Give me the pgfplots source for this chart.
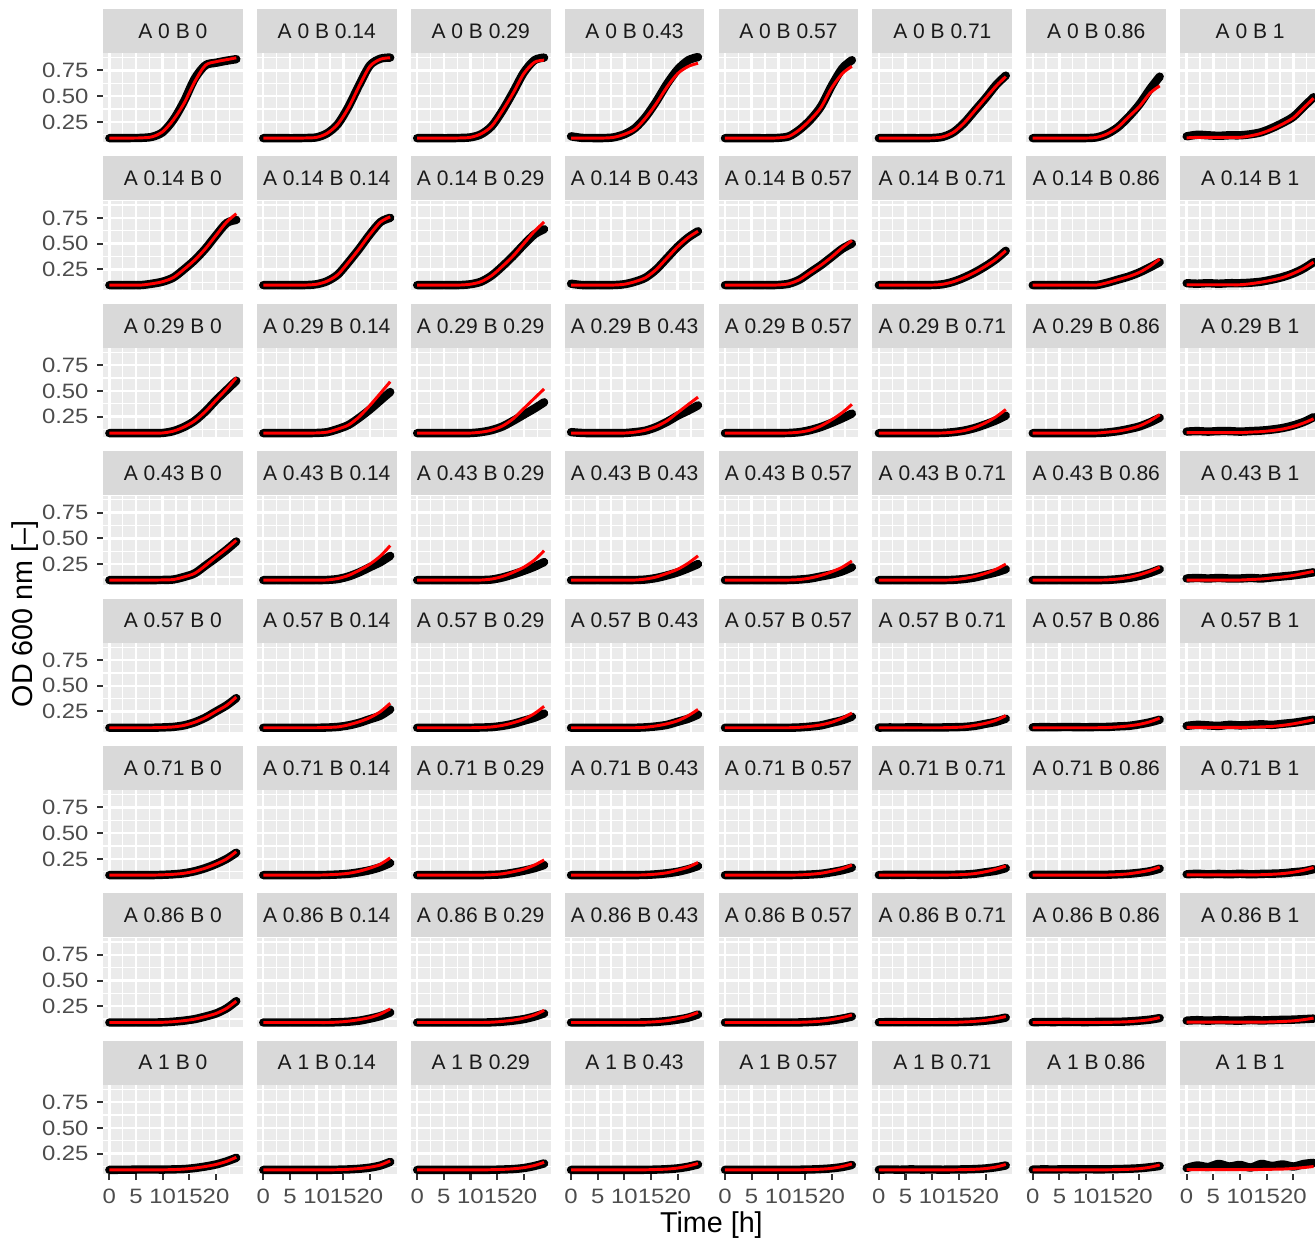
\documentclass[border=0pt]{standalone}
\usepackage{pgfplots}
\pgfplotsset{compat=1.18}
\usepackage{pgfplotstable}
\usepackage{fontspec}
\setmainfont{Liberation Sans}
\newfontfamily\tickfont[FakeStretch=1.15]{Liberation Sans}
\definecolor{panelgray}{HTML}{EBEBEB}
\definecolor{stripgray}{HTML}{D9D9D9}
\definecolor{tickgray}{HTML}{4D4D4D}
\definecolor{tickdark}{HTML}{333333}
\definecolor{striptext}{HTML}{1A1A1A}
\definecolor{fitred}{HTML}{FF0000}

% columns: t, black data b0..b7 (B = 0 ... 1), red fit r0..r7
\pgfplotstableread{
t b0 b1 b2 b3 b4 b5 b6 b7 r0 r1 r2 r3 r4 r5 r6 r7
0 0.092 0.092 0.092 0.110 0.092 0.092 0.092 0.110 0.092 0.092 0.092 0.093 0.092 0.092 0.092 0.095
2 0.092 0.092 0.092 0.095 0.092 0.092 0.092 0.125 0.092 0.092 0.092 0.093 0.092 0.092 0.092 0.100
4 0.093 0.092 0.092 0.093 0.092 0.092 0.092 0.120 0.093 0.092 0.092 0.093 0.092 0.092 0.092 0.100
6 0.095 0.092 0.092 0.093 0.092 0.092 0.092 0.115 0.095 0.092 0.092 0.093 0.092 0.092 0.092 0.100
8 0.105 0.094 0.094 0.100 0.092 0.092 0.092 0.120 0.105 0.094 0.094 0.100 0.092 0.092 0.092 0.100
10 0.150 0.100 0.100 0.130 0.095 0.094 0.093 0.120 0.155 0.100 0.100 0.130 0.095 0.094 0.093 0.100
12 0.270 0.140 0.130 0.190 0.110 0.105 0.100 0.130 0.270 0.140 0.135 0.180 0.110 0.105 0.100 0.115
14 0.450 0.230 0.210 0.300 0.175 0.150 0.135 0.150 0.430 0.230 0.210 0.290 0.175 0.150 0.135 0.140
16 0.670 0.400 0.360 0.450 0.270 0.240 0.200 0.190 0.640 0.390 0.360 0.430 0.270 0.240 0.200 0.180
18 0.800 0.610 0.540 0.620 0.400 0.360 0.300 0.240 0.800 0.600 0.530 0.590 0.390 0.360 0.300 0.230
20 0.825 0.800 0.730 0.760 0.600 0.480 0.420 0.300 0.835 0.790 0.720 0.720 0.580 0.480 0.400 0.290
22 0.845 0.865 0.850 0.850 0.770 0.610 0.570 0.400 0.855 0.860 0.830 0.790 0.720 0.600 0.530 0.390
23.8 0.860 0.875 0.875 0.880 0.850 0.700 0.690 0.490 0.873 0.873 0.850 0.820 0.790 0.690 0.600 0.480
}\tabA
\pgfplotstableread{
t b0 b1 b2 b3 b4 b5 b6 b7 r0 r1 r2 r3 r4 r5 r6 r7
0 0.096 0.096 0.096 0.110 0.096 0.096 0.096 0.115 0.096 0.096 0.096 0.096 0.096 0.096 0.096 0.100
2 0.096 0.096 0.096 0.097 0.096 0.096 0.096 0.110 0.096 0.096 0.096 0.096 0.096 0.096 0.096 0.100
4 0.096 0.096 0.096 0.096 0.096 0.096 0.096 0.115 0.096 0.096 0.096 0.096 0.096 0.096 0.096 0.100
6 0.097 0.096 0.096 0.096 0.096 0.096 0.096 0.110 0.097 0.096 0.096 0.096 0.096 0.096 0.096 0.100
8 0.110 0.097 0.097 0.097 0.096 0.096 0.096 0.115 0.110 0.097 0.097 0.097 0.096 0.096 0.096 0.100
10 0.130 0.105 0.105 0.105 0.098 0.097 0.096 0.115 0.130 0.105 0.105 0.105 0.098 0.097 0.096 0.100
12 0.170 0.135 0.130 0.130 0.110 0.105 0.097 0.120 0.170 0.135 0.130 0.130 0.110 0.105 0.097 0.110
14 0.250 0.200 0.190 0.170 0.150 0.130 0.120 0.130 0.250 0.200 0.190 0.170 0.150 0.130 0.120 0.125
16 0.340 0.320 0.280 0.250 0.220 0.170 0.150 0.150 0.340 0.320 0.280 0.250 0.220 0.170 0.150 0.145
18 0.450 0.450 0.380 0.360 0.290 0.220 0.180 0.175 0.450 0.450 0.380 0.360 0.290 0.220 0.180 0.170
20 0.580 0.590 0.490 0.470 0.370 0.280 0.220 0.210 0.580 0.590 0.500 0.470 0.370 0.280 0.220 0.210
22 0.700 0.710 0.590 0.560 0.450 0.350 0.270 0.260 0.710 0.710 0.620 0.560 0.460 0.350 0.280 0.260
23.8 0.730 0.750 0.640 0.620 0.500 0.430 0.320 0.320 0.790 0.760 0.710 0.620 0.530 0.430 0.350 0.320
}\tabB
\pgfplotstableread{
t b0 b1 b2 b3 b4 b5 b6 b7 r0 r1 r2 r3 r4 r5 r6 r7
0 0.090 0.090 0.090 0.100 0.090 0.090 0.090 0.105 0.090 0.090 0.090 0.090 0.090 0.090 0.090 0.095
2 0.090 0.090 0.090 0.092 0.090 0.090 0.090 0.110 0.090 0.090 0.090 0.090 0.090 0.090 0.090 0.095
4 0.090 0.090 0.090 0.090 0.090 0.090 0.090 0.105 0.090 0.090 0.090 0.090 0.090 0.090 0.090 0.095
6 0.090 0.090 0.090 0.090 0.090 0.090 0.090 0.110 0.090 0.090 0.090 0.090 0.090 0.090 0.090 0.095
8 0.090 0.090 0.090 0.090 0.090 0.090 0.090 0.110 0.090 0.090 0.090 0.090 0.090 0.090 0.090 0.095
10 0.092 0.092 0.091 0.091 0.090 0.090 0.090 0.105 0.092 0.092 0.091 0.091 0.090 0.090 0.090 0.095
12 0.110 0.100 0.100 0.100 0.092 0.092 0.091 0.110 0.110 0.100 0.100 0.100 0.092 0.092 0.091 0.100
14 0.150 0.130 0.120 0.115 0.100 0.100 0.097 0.115 0.150 0.130 0.120 0.120 0.100 0.100 0.100 0.105
16 0.210 0.170 0.155 0.150 0.120 0.115 0.110 0.125 0.210 0.170 0.160 0.155 0.120 0.115 0.110 0.115
18 0.300 0.240 0.210 0.200 0.150 0.140 0.130 0.140 0.300 0.250 0.230 0.210 0.160 0.145 0.130 0.130
20 0.410 0.320 0.270 0.260 0.190 0.175 0.155 0.165 0.410 0.360 0.330 0.290 0.220 0.190 0.160 0.155
22 0.510 0.410 0.330 0.310 0.235 0.215 0.195 0.200 0.520 0.480 0.430 0.370 0.290 0.250 0.210 0.190
23.8 0.600 0.490 0.390 0.360 0.280 0.260 0.240 0.245 0.630 0.590 0.520 0.440 0.370 0.320 0.270 0.230
}\tabC
\pgfplotstableread{
t b0 b1 b2 b3 b4 b5 b6 b7 r0 r1 r2 r3 r4 r5 r6 r7
0 0.094 0.094 0.094 0.094 0.094 0.094 0.094 0.110 0.094 0.094 0.094 0.094 0.094 0.094 0.094 0.095
2 0.094 0.094 0.094 0.094 0.094 0.094 0.094 0.115 0.094 0.094 0.094 0.094 0.094 0.094 0.094 0.095
4 0.094 0.094 0.094 0.094 0.094 0.094 0.094 0.110 0.094 0.094 0.094 0.094 0.094 0.094 0.094 0.095
6 0.094 0.094 0.094 0.094 0.094 0.094 0.094 0.115 0.094 0.094 0.094 0.094 0.094 0.094 0.094 0.095
8 0.094 0.094 0.094 0.094 0.094 0.094 0.094 0.110 0.094 0.094 0.094 0.094 0.094 0.094 0.094 0.095
10 0.096 0.094 0.094 0.094 0.094 0.094 0.094 0.110 0.096 0.094 0.094 0.094 0.094 0.094 0.094 0.095
12 0.100 0.096 0.095 0.095 0.095 0.094 0.094 0.115 0.100 0.096 0.095 0.095 0.095 0.094 0.094 0.100
14 0.125 0.105 0.100 0.100 0.100 0.097 0.096 0.110 0.125 0.110 0.105 0.105 0.100 0.098 0.097 0.105
16 0.160 0.130 0.120 0.115 0.110 0.105 0.103 0.120 0.160 0.140 0.130 0.125 0.115 0.110 0.105 0.115
18 0.235 0.170 0.150 0.140 0.130 0.120 0.115 0.130 0.235 0.190 0.170 0.160 0.140 0.130 0.120 0.125
20 0.310 0.220 0.185 0.170 0.150 0.145 0.135 0.140 0.320 0.250 0.220 0.200 0.175 0.160 0.145 0.140
22 0.390 0.270 0.225 0.210 0.180 0.170 0.165 0.155 0.400 0.330 0.290 0.260 0.220 0.200 0.180 0.160
23.8 0.470 0.330 0.270 0.250 0.220 0.200 0.200 0.170 0.480 0.430 0.380 0.330 0.280 0.250 0.220 0.180
}\tabD
\pgfplotstableread{
t b0 b1 b2 b3 b4 b5 b6 b7 r0 r1 r2 r3 r4 r5 r6 r7
0 0.092 0.092 0.092 0.092 0.092 0.093 0.096 0.110 0.092 0.092 0.092 0.092 0.092 0.092 0.092 0.095
2 0.092 0.092 0.092 0.092 0.092 0.095 0.098 0.120 0.092 0.092 0.092 0.092 0.092 0.092 0.092 0.095
4 0.092 0.092 0.092 0.092 0.092 0.094 0.097 0.115 0.092 0.092 0.092 0.092 0.092 0.092 0.092 0.095
6 0.092 0.092 0.092 0.092 0.092 0.096 0.099 0.110 0.092 0.092 0.092 0.092 0.092 0.092 0.092 0.095
8 0.092 0.092 0.092 0.092 0.092 0.095 0.098 0.120 0.092 0.092 0.092 0.092 0.092 0.092 0.092 0.095
10 0.095 0.092 0.092 0.092 0.092 0.094 0.097 0.115 0.095 0.092 0.092 0.092 0.092 0.092 0.092 0.095
12 0.100 0.094 0.094 0.092 0.092 0.095 0.099 0.120 0.100 0.095 0.094 0.092 0.092 0.092 0.092 0.097
14 0.115 0.100 0.098 0.096 0.095 0.097 0.100 0.125 0.115 0.100 0.100 0.097 0.096 0.095 0.094 0.100
16 0.145 0.115 0.110 0.105 0.103 0.100 0.105 0.120 0.145 0.120 0.115 0.110 0.105 0.100 0.100 0.105
18 0.190 0.140 0.130 0.120 0.115 0.110 0.110 0.130 0.190 0.150 0.140 0.130 0.120 0.115 0.110 0.115
20 0.250 0.175 0.160 0.150 0.140 0.130 0.125 0.140 0.250 0.190 0.175 0.160 0.145 0.135 0.125 0.130
22 0.310 0.210 0.190 0.180 0.165 0.150 0.145 0.155 0.310 0.250 0.230 0.210 0.185 0.165 0.150 0.150
23.8 0.380 0.270 0.230 0.220 0.200 0.180 0.170 0.170 0.390 0.330 0.300 0.270 0.235 0.210 0.185 0.170
}\tabE
\pgfplotstableread{
t b0 b1 b2 b3 b4 b5 b6 b7 r0 r1 r2 r3 r4 r5 r6 r7
0 0.092 0.092 0.092 0.092 0.092 0.093 0.094 0.100 0.092 0.092 0.092 0.092 0.092 0.092 0.092 0.094
2 0.092 0.092 0.092 0.092 0.092 0.095 0.096 0.105 0.092 0.092 0.092 0.092 0.092 0.092 0.092 0.094
4 0.092 0.092 0.092 0.092 0.092 0.094 0.095 0.100 0.092 0.092 0.092 0.092 0.092 0.092 0.092 0.094
6 0.092 0.092 0.092 0.092 0.092 0.096 0.096 0.104 0.092 0.092 0.092 0.092 0.092 0.092 0.092 0.094
8 0.092 0.092 0.092 0.092 0.092 0.094 0.095 0.100 0.092 0.092 0.092 0.092 0.092 0.092 0.092 0.094
10 0.095 0.092 0.092 0.092 0.092 0.095 0.096 0.105 0.095 0.092 0.092 0.092 0.092 0.092 0.092 0.094
12 0.100 0.094 0.092 0.092 0.092 0.094 0.095 0.100 0.100 0.095 0.092 0.092 0.092 0.092 0.092 0.094
14 0.110 0.098 0.095 0.094 0.094 0.096 0.096 0.104 0.110 0.100 0.096 0.095 0.094 0.094 0.093 0.096
16 0.130 0.105 0.100 0.100 0.098 0.098 0.100 0.106 0.130 0.110 0.105 0.102 0.100 0.098 0.097 0.100
18 0.160 0.120 0.115 0.110 0.105 0.105 0.105 0.110 0.160 0.130 0.125 0.115 0.110 0.107 0.105 0.107
20 0.200 0.140 0.135 0.125 0.120 0.120 0.115 0.120 0.200 0.160 0.150 0.140 0.130 0.125 0.120 0.120
22 0.250 0.170 0.160 0.150 0.140 0.135 0.130 0.130 0.250 0.200 0.190 0.170 0.155 0.150 0.140 0.140
23.8 0.310 0.210 0.190 0.180 0.165 0.160 0.155 0.150 0.320 0.260 0.240 0.215 0.190 0.180 0.170 0.165
}\tabF
\pgfplotstableread{
t b0 b1 b2 b3 b4 b5 b6 b7 r0 r1 r2 r3 r4 r5 r6 r7
0 0.092 0.092 0.092 0.092 0.092 0.094 0.095 0.110 0.092 0.092 0.092 0.092 0.092 0.092 0.092 0.095
2 0.092 0.092 0.092 0.092 0.092 0.096 0.097 0.115 0.092 0.092 0.092 0.092 0.092 0.092 0.092 0.095
4 0.092 0.092 0.092 0.092 0.092 0.095 0.096 0.110 0.092 0.092 0.092 0.092 0.092 0.092 0.092 0.095
6 0.092 0.092 0.092 0.092 0.092 0.096 0.098 0.115 0.092 0.092 0.092 0.092 0.092 0.092 0.092 0.095
8 0.092 0.092 0.092 0.092 0.092 0.095 0.097 0.112 0.092 0.092 0.092 0.092 0.092 0.092 0.092 0.095
10 0.094 0.092 0.092 0.092 0.092 0.094 0.096 0.110 0.094 0.092 0.092 0.092 0.092 0.092 0.092 0.095
12 0.100 0.092 0.092 0.092 0.092 0.096 0.098 0.116 0.100 0.092 0.092 0.092 0.092 0.092 0.092 0.095
14 0.110 0.095 0.094 0.094 0.093 0.095 0.100 0.112 0.110 0.096 0.095 0.094 0.094 0.093 0.093 0.096
16 0.125 0.100 0.100 0.098 0.097 0.098 0.099 0.115 0.125 0.105 0.103 0.100 0.098 0.097 0.096 0.098
18 0.150 0.110 0.110 0.107 0.103 0.102 0.103 0.118 0.150 0.120 0.115 0.110 0.105 0.103 0.100 0.102
20 0.180 0.130 0.125 0.120 0.113 0.110 0.110 0.120 0.180 0.140 0.135 0.130 0.120 0.113 0.108 0.108
22 0.230 0.155 0.150 0.140 0.130 0.122 0.120 0.125 0.230 0.175 0.165 0.155 0.140 0.130 0.120 0.120
23.8 0.300 0.190 0.180 0.170 0.150 0.140 0.135 0.130 0.300 0.225 0.210 0.190 0.165 0.150 0.140 0.135
}\tabG
\pgfplotstableread{
t b0 b1 b2 b3 b4 b5 b6 b7 r0 r1 r2 r3 r4 r5 r6 r7
0 0.092 0.092 0.092 0.092 0.093 0.094 0.095 0.110 0.092 0.092 0.092 0.092 0.092 0.092 0.092 0.095
2 0.093 0.092 0.092 0.092 0.093 0.096 0.097 0.135 0.092 0.092 0.092 0.092 0.092 0.092 0.092 0.095
4 0.094 0.092 0.092 0.092 0.093 0.094 0.096 0.120 0.092 0.092 0.092 0.092 0.092 0.092 0.092 0.095
6 0.096 0.092 0.092 0.092 0.093 0.097 0.098 0.150 0.092 0.092 0.092 0.092 0.092 0.092 0.092 0.095
8 0.096 0.092 0.092 0.092 0.093 0.095 0.097 0.125 0.092 0.092 0.092 0.092 0.092 0.092 0.092 0.095
10 0.095 0.092 0.092 0.092 0.093 0.096 0.099 0.140 0.093 0.092 0.092 0.092 0.092 0.092 0.092 0.095
12 0.097 0.092 0.092 0.092 0.093 0.094 0.097 0.115 0.095 0.092 0.092 0.092 0.092 0.092 0.092 0.095
14 0.100 0.094 0.093 0.093 0.094 0.096 0.098 0.150 0.100 0.094 0.094 0.093 0.093 0.093 0.093 0.096
16 0.110 0.097 0.096 0.095 0.096 0.097 0.100 0.130 0.110 0.098 0.097 0.096 0.095 0.095 0.095 0.098
18 0.125 0.103 0.100 0.099 0.100 0.100 0.103 0.145 0.125 0.105 0.103 0.100 0.099 0.098 0.098 0.100
20 0.145 0.114 0.110 0.107 0.107 0.106 0.108 0.125 0.145 0.118 0.114 0.110 0.107 0.105 0.104 0.106
22 0.175 0.135 0.130 0.123 0.120 0.118 0.118 0.150 0.175 0.140 0.135 0.130 0.125 0.120 0.118 0.115
23.8 0.210 0.170 0.155 0.145 0.140 0.135 0.130 0.160 0.215 0.180 0.165 0.155 0.150 0.145 0.140 0.125
}\tabH

\pgfplotsset{
  every axis title/.style={at={(0.5,1)}, anchor=south, fill=stripgray, text=striptext,
    minimum width=61.82pt, minimum height=19.47pt, inner sep=0pt,
    font=\fontsize{9.3}{11}\selectfont},
  facet/.style={
    scale only axis, width=61.82pt, height=39.38pt, anchor=north west,
    xmin=-1.19, xmax=25.0, ymin=0.05, ymax=0.915,
    xtick={0,5,10,15,20}, ytick={0.25,0.5,0.75},
    minor xtick={2.5,7.5,12.5,17.5,22.5}, minor ytick={0.125,0.375,0.625,0.875},
    grid=both,
    major grid style={white, line width=1.1pt},
    minor grid style={white, line width=0.55pt},
    axis background/.style={fill=panelgray},
    axis line style={draw=none},
    tick align=outside, tick pos=left,
    major tick length=2.65pt, minor tick length=0pt,
    tick style={tickdark, line width=0.9pt},
    ticklabel style={font=\tickfont\fontsize{9.2}{11}\selectfont, text=tickgray, inner sep=0pt},
    yticklabel style={anchor=east, xshift=-3.55pt},
    xticklabel style={anchor=north, yshift=-3.85pt},
  },
  datastyle/.style={black, line width=3.7pt, smooth, line cap=round, line join=round},
  fitstyle/.style={fitred, line width=1.3pt, smooth},
}
\newcommand\drawpanel[1]{%
  \addplot[datastyle] table[x=t, y=b\c]{#1};
  \addplot[fitstyle] table[x=t, y=r\c]{#1};
}

\begin{document}
\begin{tikzpicture}
\foreach \rl/\A/\rn in {A/0/0,B/0.14/1,C/0.29/2,D/0.43/3,E/0.57/4,F/0.71/5,G/0.86/6,H/1/7}{
  \foreach \c/\B in {0/0,1/0.14,2/0.29,3/0.43,4/0.57,5/0.71,6/0.86,7/1}{
    \pgfmathsetmacro\px{45.58+68.10*\c}
    \pgfmathsetmacro\py{-23.67-65.22*\rn}
    \ifnum\c=0
      \pgfplotsset{ystyle/.style={yticklabels={0.25,0.50,0.75}}}
    \else
      \pgfplotsset{ystyle/.style={yticklabels={}, ytick style={draw=none}}}
    \fi
    \ifnum\rn=7
      \pgfplotsset{xstyle/.style={xticklabels={0,5,10,15,20}}}
    \else
      \pgfplotsset{xstyle/.style={xticklabels={}, xtick style={draw=none}}}
    \fi
    \begin{axis}[facet, ystyle, xstyle, at={(\px pt,\py pt)}, title={A \A{} B \B}]
      \expandafter\drawpanel\csname tab\rl\endcsname
    \end{axis}
  }
}
\node[font=\fontsize{12.7}{15}\selectfont, anchor=base] at (314.8pt,-545.2pt) {Time [h]};
\node[font=\fontsize{12.7}{15}\selectfont, rotate=90, anchor=base] at (14.2pt,-271.6pt) {OD 600 nm [–]};
\pgfresetboundingbox
\useasboundingbox (0pt,0pt) rectangle (581.89pt,-550.47pt);
\end{tikzpicture}
\end{document}
